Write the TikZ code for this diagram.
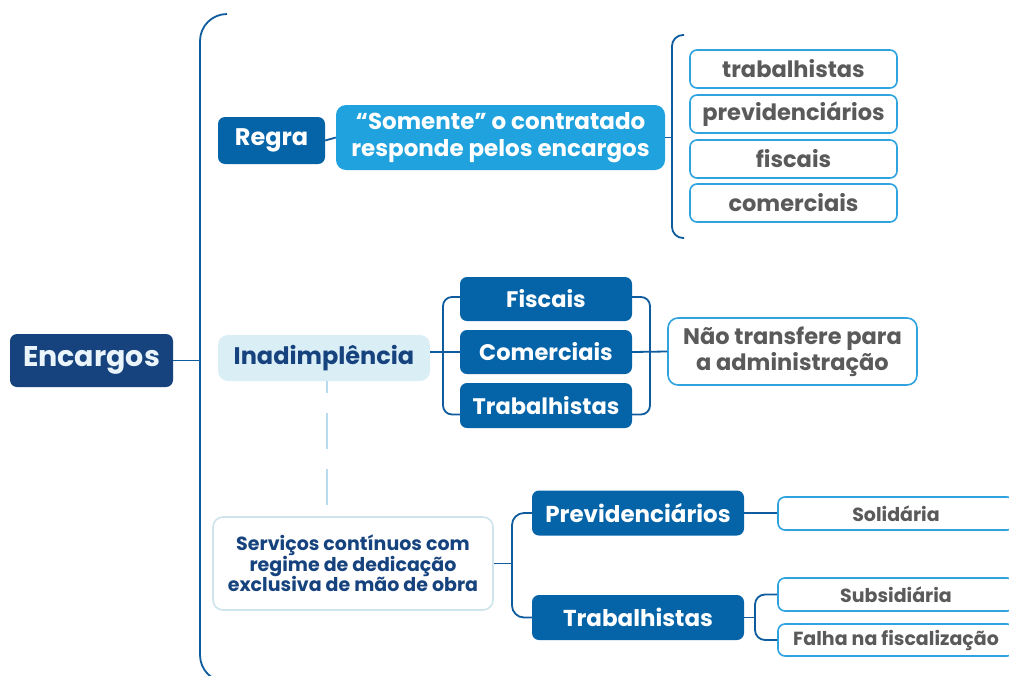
\documentclass[tikz,border=0pt]{standalone}
\usepackage{fontspec}
\setmainfont{Poppins}
\definecolor{navy}{HTML}{16437E}
\definecolor{midblue}{HTML}{0563A8}
\definecolor{skyblue}{HTML}{1FA2DD}
\definecolor{paleblue}{HTML}{DAEEF6}
\definecolor{edgeblue}{HTML}{2FA3DF}
\definecolor{paleedge}{HTML}{CDE4ED}
\definecolor{linkblue}{HTML}{0E5C9E}
\definecolor{dashblue}{HTML}{B7DDEC}
\definecolor{textgray}{HTML}{5A5A5A}
\definecolor{lighttext}{HTML}{EAF4FB}
\begin{document}
\begin{tikzpicture}[x=1pt, y=-1pt,
        sz/.style n args={2}{font=\fontsize{#1}{#2}\selectfont\bfseries},
        box/.style={rounded corners=7pt, inner sep=0pt, align=center},
        navybox/.style={box, fill=navy, text=lighttext},
        bluebox/.style={box, fill=midblue, text=white},
        skybox/.style={box, rounded corners=10pt, fill=skyblue, text=white},
        palebox/.style={box, rounded corners=10pt, fill=paleblue, text=navy},
        linebox/.style={box, fill=white, draw=edgeblue, line width=1.6pt, text=textgray},
        servbox/.style={box, rounded corners=10pt, fill=white, draw=paleedge, line width=1.6pt, text=navy},
        conn/.style={draw=linkblue, line width=1.8pt},
        dashline/.style={draw=dashblue, line width=1.6pt, dash pattern=on 36pt off 20pt, dash phase=24pt}
    ]
        \useasboundingbox (0, 0) rectangle (1009, 675);
        \clip (0, 0) rectangle (1009, 675);

        \node[navybox, minimum width=163, minimum height=53, sz={28.5}{32}] (enc) at (91.5, 360.5) {Encargos};

        \node[bluebox, minimum width=107, minimum height=47, sz={24}{28}] (regra) at (271.5, 140.5) {Regra};
        \node[skybox, minimum width=329, minimum height=65, sz={23}{26.5}] (somente) at (500.5, 137.5) {“Somente” o contratado\\responde pelos encargos};

        \node[linebox, minimum width=207, minimum height=38, sz={22.5}{26}] (trabl) at (793.5, 69) {trabalhistas};
        \node[linebox, minimum width=207, minimum height=38, sz={22.5}{26}] (prevl) at (793.5, 114) {previdenciários};
        \node[linebox, minimum width=207, minimum height=38, sz={22.5}{26}] (fiscl) at (793.5, 159) {fiscais};
        \node[linebox, minimum width=207, minimum height=38, sz={22.5}{26}] (comel) at (793.5, 203) {comerciais};

        \node[palebox, minimum width=212, minimum height=46, sz={24}{28}] (inad) at (324, 358) {Inadimplência};
        \node[bluebox, minimum width=172, minimum height=44, sz={22.5}{26}] (fiscais) at (546, 299) {Fiscais};
        \node[bluebox, minimum width=172, minimum height=44, sz={22.5}{26}] (comerciais) at (546, 352) {Comerciais};
        \node[bluebox, minimum width=172, minimum height=45, sz={22.5}{26}] (trab1) at (546, 405.5) {Trabalhistas};
        \node[linebox, rounded corners=10pt, minimum width=249, minimum height=67, sz={22.5}{26}] (nao) at (792.5, 351.5) {Não transfere para\\ a administração};

        \node[servbox, minimum width=280, minimum height=93, sz={19}{20.5}] (serv) at (353, 563.5) {Serviços contínuos com\\regime de dedicação\\exclusiva de mão de obra};
        \node[bluebox, minimum width=212, minimum height=45, sz={23}{26}] (prev) at (638, 513) {Previdenciários};
        \node[bluebox, minimum width=212, minimum height=45, sz={23}{26}] (trab2) at (638, 617.5) {Trabalhistas};
        \node[linebox, minimum width=236, minimum height=33, sz={19}{22}] (sol) at (896, 513.5) {Solidária};
        \node[linebox, minimum width=236, minimum height=33, sz={19}{22}] (sub) at (896, 594.5) {Subsidiária};
        \node[linebox, minimum width=236, minimum height=32, sz={19}{22}] (falha) at (896, 640) {Falha na fiscalização};

        \coordinate (trunk) at (200, 360.5);
        \coordinate (lbr) at (672, 137.5);
        \coordinate (ib) at (443, 352);
        \coordinate (ir) at (650, 352);
        \coordinate (sb) at (512, 563.5);
        \coordinate (tb) at (755, 617.5);

        \draw[conn, rounded corners=27pt] (227, 14) -| (200, 682) -- (245, 682);
        \draw[conn] (enc.east) -- (trunk);

        \draw[conn] (regra.east) -- (somente.west);
        \draw[conn, rounded corners=11pt] (684, 35) -| (672, 238) -- (684, 238);
        \draw[conn] (somente.east) -- (lbr);

        \draw[conn] (inad.east |- comerciais.west) -- (comerciais.west);
        \draw[conn, rounded corners=9pt] ([yshift=2pt]fiscais.west) -| (ib) |- ([yshift=-9pt]trab1.west);
        \draw[conn, rounded corners=9pt] ([yshift=2pt]fiscais.east) -| (ir) |- ([yshift=-9pt]trab1.east);
        \draw[conn] (comerciais.east) -- (nao.west);

        \draw[dashline] ([xshift=3pt]inad.south) -- ([xshift=3pt]inad.south |- serv.north);

        \draw[conn] (serv.east) -- (sb);
        \draw[conn, rounded corners=12pt] (prev.west) -| (sb) |- (trab2.west);
        \draw[conn] (prev.east) -- (prev.east -| sol.west);
        \draw[conn] (trab2.east) -- (tb);
        \draw[conn, rounded corners=10pt] (sub.west) -| (tb) |- (falha.west);
    \end{tikzpicture}
\end{document}
